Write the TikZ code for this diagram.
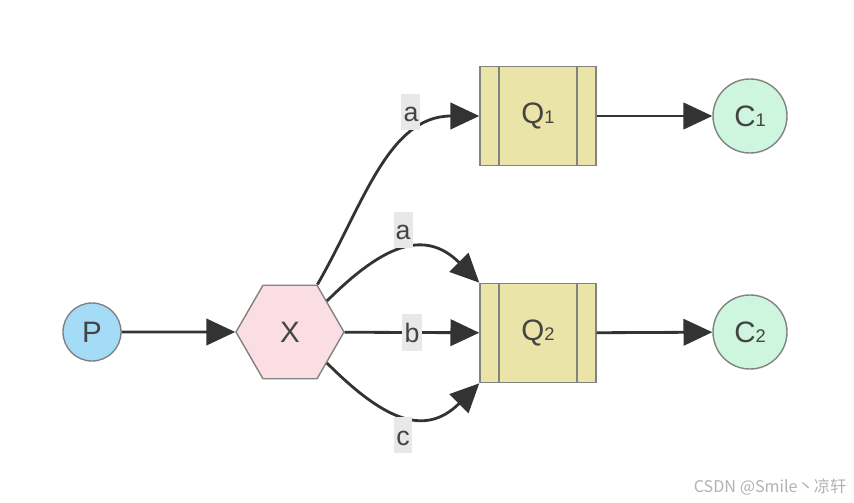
\documentclass[tikz,border=0pt]{standalone}
\usepackage{fontspec}
\setmainfont{Liberation Sans}
\newfontfamily\cjk{Noto Sans CJK SC}
\usetikzlibrary{arrows.meta,shapes.geometric}
\definecolor{prodblue}{RGB}{164,219,246}
\definecolor{exchpink}{RGB}{250,222,228}
\definecolor{queueyellow}{RGB}{235,228,168}
\definecolor{consgreen}{RGB}{206,245,221}
\definecolor{bordergray}{RGB}{130,130,130}
\definecolor{linkgray}{RGB}{51,51,51}
\definecolor{textgray}{RGB}{68,68,68}
\definecolor{keygray}{RGB}{232,232,232}
\newcommand{\qsub}[1]{{\fontsize{13}{13}\selectfont #1}}

\begin{document}
\begin{tikzpicture}[
    x=0.025cm, y=0.025cm,
    base/.style={draw=bordergray, line width=1pt, text=textgray, font=\fontsize{21}{24}\selectfont, inner sep=0pt},
    prod/.style={base, circle, fill=prodblue, minimum size=1.45cm},
    exch/.style={base, regular polygon, regular polygon sides=6, fill=exchpink, minimum size=2.7cm},
    queue/.style={base, rectangle, fill=queueyellow, minimum width=2.9cm, minimum height=2.48cm,
        path picture={
            \draw[bordergray, line width=1pt]
                ([xshift=0.475cm]path picture bounding box.north west) -- ([xshift=0.475cm]path picture bounding box.south west)
                ([xshift=-0.475cm]path picture bounding box.north east) -- ([xshift=-0.475cm]path picture bounding box.south east);
        }},
    cons/.style={base, circle, fill=consgreen, minimum size=1.85cm},
    link/.style={draw=linkgray, line width=2pt, -{Triangle[length=0.72cm, width=0.66cm]}},
    lbl/.style={fill=keygray, text=textgray, font=\fontsize{19}{20}\selectfont, inner xsep=1.5pt, inner ysep=2pt, text height=0.62cm, text depth=0.14cm}
]
\useasboundingbox (0,0) rectangle (854,502);

% nodes
\node[prod] (p) at (92,170) {P};
\node[exch] (x) at (290,170) {X};
\node[queue] (q1) at (538,386) {Q\qsub{1}};
\node[queue] (q2) at (538,169) {Q\qsub{2}};
\node[cons] (c1) at (750,386) {C\qsub{1}};
\node[cons] (c2) at (750,170) {C\qsub{2}};

% bindings
\draw[link] (p) -- (x);
\draw[link] (x.60) to[out=60, in=180] node[lbl, pos=0.75, anchor=south east] {a} (q1.west);
\draw[link] (x.40) to[out=45, in=135, looseness=1.3] node[lbl, pos=0.5, above=1pt] {a} (q2.north west);
\draw[link] (x) -- node[lbl] {b} (q2);
\draw[link] (x.-40) to[out=-45, in=-135, looseness=1.3] node[lbl, pos=0.5, below=1pt] {c} (q2.south west);
\draw[link] (q1) -- (c1);
\draw[link] (q2) -- (c2);

\node[font=\cjk\fontsize{11.5}{13}\selectfont, text=gray!60] (mark) at (770,15) {CSDN @Smile丶凉轩};
\end{tikzpicture}
\end{document}
